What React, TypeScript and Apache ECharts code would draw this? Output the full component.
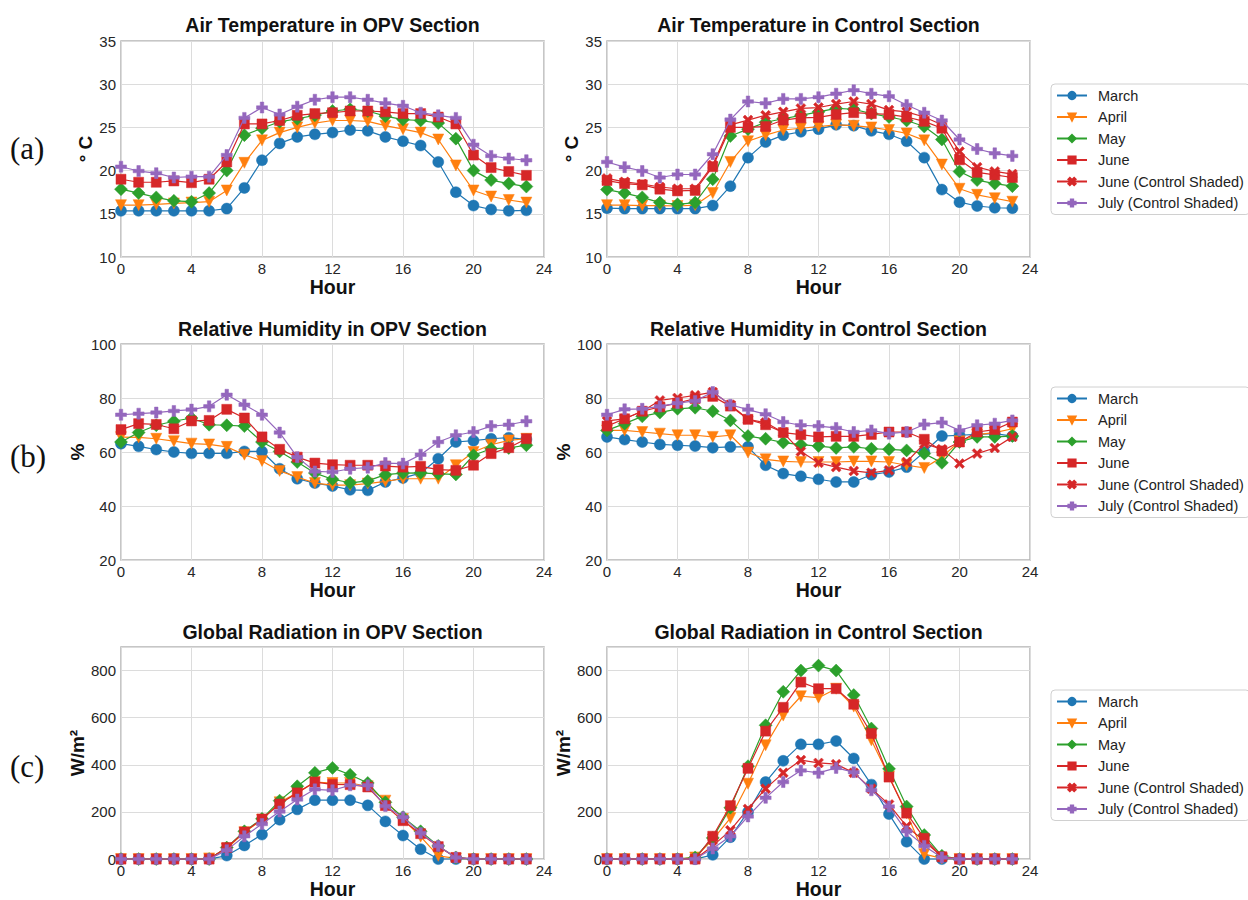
import React, { useEffect, useRef } from "react";
import * as echarts from "echarts";

const HOURS = [0, 1, 2, 3, 4, 5, 6, 7, 8, 9, 10, 11, 12, 13, 14, 15, 16, 17, 18, 19, 20, 21, 22, 23];
const SERIES_NAMES = ["March", "April", "May", "June", "June (Control Shaded)", "July (Control Shaded)"];
const PANEL_TITLES = [
  "Air Temperature in OPV Section",
  "Air Temperature in Control Section",
  "Relative Humidity in OPV Section",
  "Relative Humidity in Control Section",
  "Global Radiation in OPV Section",
  "Global Radiation in Control Section",
];
const ROW_LABELS = ["(a)", "(b)", "(c)"];
const Y_NAMES = ["° C", "%", "W/m²"];
const X_NAME = "Hour";

// ---- Air temperature (°C) ----
const T_OPV_MARCH = [15.35, 15.35, 15.35, 15.35, 15.35, 15.35, 15.6, 18.0, 21.2, 23.15, 23.9, 24.2, 24.4, 24.7, 24.6, 23.9, 23.4, 22.9, 21.0, 17.5, 15.95, 15.5, 15.35, 15.4];
const T_OPV_APRIL = [16.0, 16.0, 16.1, 16.2, 16.3, 16.4, 17.7, 20.9, 23.5, 24.4, 25.0, 25.5, 25.8, 25.8, 25.7, 25.2, 24.8, 24.4, 23.6, 20.6, 17.7, 17.0, 16.6, 16.3];
const T_OPV_MAY = [17.85, 17.4, 16.9, 16.5, 16.4, 17.4, 20.0, 24.1, 24.9, 25.65, 26.0, 26.4, 26.9, 27.1, 26.9, 26.3, 25.9, 25.8, 25.5, 23.7, 20.0, 18.9, 18.5, 18.15];
const T_OPV_JUNE = [19.0, 18.65, 18.65, 18.8, 18.6, 19.0, 21.0, 25.4, 25.4, 25.8, 26.4, 26.6, 26.7, 26.9, 26.9, 26.8, 26.6, 26.6, 26.2, 25.4, 21.8, 20.35, 19.9, 19.45];
const T_OPV_JULY = [20.45, 19.95, 19.7, 19.2, 19.3, 19.3, 21.8, 26.1, 27.3, 26.5, 27.4, 28.2, 28.5, 28.5, 28.2, 27.8, 27.5, 26.7, 26.4, 26.1, 23.0, 21.7, 21.4, 21.2];

const T_CTRL_MARCH = [15.65, 15.6, 15.6, 15.6, 15.6, 15.6, 15.95, 18.2, 21.5, 23.3, 24.1, 24.5, 24.8, 25.3, 25.2, 24.6, 24.2, 23.4, 21.5, 17.8, 16.35, 15.9, 15.7, 15.65];
const T_CTRL_APRIL = [16.0, 16.0, 15.95, 15.95, 15.9, 16.0, 17.4, 21.0, 23.4, 24.1, 24.7, 24.9, 25.1, 25.3, 25.2, 25.0, 24.7, 24.3, 23.5, 20.7, 17.9, 17.2, 16.8, 16.4];
const T_CTRL_MAY = [17.8, 17.4, 16.9, 16.3, 16.1, 16.3, 19.0, 24.0, 24.8, 25.6, 26.0, 26.4, 26.8, 27.2, 27.1, 26.6, 26.2, 25.8, 25.1, 23.6, 19.9, 18.9, 18.5, 18.2];
const T_CTRL_JUNE = [18.85, 18.5, 18.35, 17.85, 17.65, 17.7, 20.45, 25.0, 25.0, 25.1, 25.85, 26.1, 26.15, 26.5, 26.7, 26.6, 26.5, 26.2, 25.7, 24.9, 21.25, 19.8, 19.5, 19.2];
const T_CTRL_JUNE_SHADED = [19.1, 18.7, 18.45, 18.1, 17.9, 17.9, 20.65, 25.3, 25.85, 26.4, 26.8, 27.2, 27.3, 27.7, 28.0, 27.7, 27.0, 26.8, 26.2, 25.3, 22.2, 20.4, 19.9, 19.6];
const T_CTRL_JULY = [21.0, 20.4, 19.95, 19.2, 19.55, 19.55, 21.9, 25.9, 28.0, 27.8, 28.3, 28.3, 28.5, 28.9, 29.3, 28.9, 28.6, 27.6, 26.7, 25.8, 23.6, 22.5, 22.0, 21.7];

// ---- Relative humidity (%) ----
const RH_OPV_MARCH = [63.1, 62.1, 60.9, 60.0, 59.5, 59.5, 59.5, 60.2, 60.2, 53.8, 50.1, 48.5, 47.4, 46.0, 45.8, 48.9, 50.4, 52.2, 57.5, 63.7, 64.2, 64.9, 65.3, 64.7];
const RH_OPV_APRIL = [65.5, 65.4, 64.9, 64.0, 63.1, 62.8, 61.9, 59.0, 56.7, 53.0, 50.7, 48.5, 47.7, 47.7, 48.3, 49.1, 50.1, 50.1, 50.1, 55.1, 60.0, 62.7, 64.3, 64.9];
const RH_OPV_MAY = [63.7, 67.2, 69.9, 71.4, 72.6, 70.1, 69.9, 69.6, 63.7, 60.2, 56.3, 52.2, 49.9, 48.6, 49.3, 51.6, 52.2, 52.3, 51.9, 51.7, 58.8, 61.2, 61.5, 62.5];
const RH_OPV_JUNE = [68.3, 70.5, 70.2, 68.6, 71.5, 71.7, 75.8, 72.6, 65.6, 61.0, 58.1, 55.9, 55.3, 55.1, 55.1, 54.8, 54.4, 54.7, 53.5, 53.2, 55.1, 59.4, 61.6, 64.9];
const RH_OPV_JULY = [73.8, 74.2, 74.6, 75.2, 75.7, 76.9, 81.2, 77.5, 73.8, 67.2, 58.1, 52.8, 52.6, 53.8, 54.2, 55.9, 55.7, 59.0, 63.7, 66.2, 67.4, 69.6, 70.1, 71.4];

const RH_CTRL_MARCH = [65.6, 64.6, 63.7, 62.8, 62.5, 62.2, 61.6, 61.9, 61.9, 55.1, 52.0, 51.0, 49.9, 48.9, 48.9, 51.6, 52.6, 54.4, 60.0, 65.9, 66.2, 66.5, 66.8, 65.9];
const RH_CTRL_APRIL = [68.0, 68.0, 67.4, 66.8, 66.2, 66.2, 65.6, 66.2, 59.8, 57.3, 56.5, 56.3, 56.3, 56.3, 56.5, 56.5, 56.3, 55.1, 54.1, 58.1, 64.0, 66.4, 67.2, 68.6];
const RH_CTRL_MAY = [68.0, 70.5, 73.2, 74.6, 76.0, 76.4, 75.1, 71.7, 65.9, 64.9, 63.5, 62.7, 62.2, 61.5, 61.9, 61.2, 61.0, 60.6, 59.4, 56.0, 63.7, 65.6, 65.6, 65.9];
const RH_CTRL_JUNE = [69.6, 72.3, 75.1, 76.7, 78.1, 79.8, 80.6, 77.0, 72.1, 70.1, 67.2, 66.4, 65.6, 65.8, 65.8, 66.5, 67.4, 67.4, 64.7, 60.4, 63.7, 67.4, 68.3, 71.1];
const RH_CTRL_JUNE_SHADED = [71.5, 72.3, 75.1, 79.1, 80.0, 81.0, 82.2, 77.5, 72.1, 70.9, 67.2, 60.2, 56.0, 54.4, 53.0, 52.3, 53.2, 56.3, 63.1, 61.0, 55.7, 59.4, 61.5, 65.6];
const RH_CTRL_JULY = [73.8, 75.8, 76.0, 76.9, 78.1, 78.9, 82.2, 77.5, 75.7, 74.0, 71.1, 69.9, 69.6, 68.9, 67.4, 68.0, 66.8, 67.4, 70.2, 70.9, 68.0, 69.9, 70.5, 71.7];

// ---- Global radiation (W/m²) ----
const RAD_OPV_MARCH = [0, 0, 0, 0, 0, 0, 15, 58, 104, 167, 211, 250, 250, 250, 228, 160, 100, 42, 0, 0, 0, 0, 0, 0];
const RAD_OPV_APRIL = [0, 0, 0, 0, 0, 3, 45, 114, 167, 241, 281, 327, 323, 323, 309, 248, 170, 95, 14, 3, 0, 0, 0, 0];
const RAD_OPV_MAY = [0, 0, 0, 0, 0, 0, 49, 118, 171, 248, 309, 366, 387, 358, 323, 241, 178, 118, 56, 7, 0, 0, 0, 0];
const RAD_OPV_JUNE = [0, 0, 0, 0, 0, 0, 49, 115, 170, 234, 281, 327, 317, 316, 306, 227, 163, 108, 53, 7, 0, 0, 0, 0];
const RAD_OPV_JULY = [0, 0, 0, 0, 0, 0, 38, 97, 149, 202, 253, 296, 292, 313, 313, 225, 178, 111, 56, 7, 0, 0, 0, 0];

const RAD_CTRL_MARCH = [0, 0, 0, 0, 0, 0, 18, 93, 200, 327, 417, 487, 487, 501, 427, 316, 191, 74, 0, 0, 0, 0, 0, 0];
const RAD_CTRL_APRIL = [0, 0, 0, 0, 0, 7, 83, 174, 320, 483, 609, 691, 685, 723, 647, 504, 351, 195, 21, 3, 0, 0, 0, 0];
const RAD_CTRL_MAY = [0, 0, 0, 0, 0, 7, 90, 218, 394, 568, 710, 800, 821, 800, 696, 554, 383, 223, 102, 14, 0, 0, 0, 0];
const RAD_CTRL_JUNE = [0, 0, 0, 0, 0, 0, 97, 227, 385, 543, 644, 751, 723, 723, 657, 533, 348, 195, 88, 10, 0, 0, 0, 0];
const RAD_CTRL_JUNE_SHADED = [0, 0, 0, 0, 0, 0, 56, 122, 213, 299, 366, 420, 408, 403, 366, 299, 232, 139, 77, 10, 0, 0, 0, 0];
const RAD_CTRL_JULY = [0, 0, 0, 0, 0, 0, 45, 97, 181, 260, 327, 376, 366, 387, 369, 292, 223, 118, 56, 7, 0, 0, 0, 0];

const PANEL_DATA: (number[] | null)[][] = [
  [T_OPV_MARCH, T_OPV_APRIL, T_OPV_MAY, T_OPV_JUNE, null, T_OPV_JULY],
  [T_CTRL_MARCH, T_CTRL_APRIL, T_CTRL_MAY, T_CTRL_JUNE, T_CTRL_JUNE_SHADED, T_CTRL_JULY],
  [RH_OPV_MARCH, RH_OPV_APRIL, RH_OPV_MAY, RH_OPV_JUNE, null, RH_OPV_JULY],
  [RH_CTRL_MARCH, RH_CTRL_APRIL, RH_CTRL_MAY, RH_CTRL_JUNE, RH_CTRL_JUNE_SHADED, RH_CTRL_JULY],
  [RAD_OPV_MARCH, RAD_OPV_APRIL, RAD_OPV_MAY, RAD_OPV_JUNE, null, RAD_OPV_JULY],
  [RAD_CTRL_MARCH, RAD_CTRL_APRIL, RAD_CTRL_MAY, RAD_CTRL_JUNE, RAD_CTRL_JUNE_SHADED, RAD_CTRL_JULY],
];

const Y_RANGES = [
  { min: 10, max: 35, interval: 5 },
  { min: 20, max: 100, interval: 20 },
  { min: 0, max: 900, interval: 200 },
];

const COLORS = ["#1f77b4", "#ff7f0e", "#2ca02c", "#d62728", "#d62728", "#9467bd"];
const X_PATH = "path://M0,2 L2,0 L5,3 L8,0 L10,2 L7,5 L10,8 L8,10 L5,7 L2,10 L0,8 L3,5 Z";
const P_PATH = "path://M3.4,0 L6.6,0 L6.6,3.4 L10,3.4 L10,6.6 L6.6,6.6 L6.6,10 L3.4,10 L3.4,6.6 L0,6.6 L0,3.4 L3.4,3.4 Z";
const SYMBOLS = ["circle", "triangle", "diamond", "rect", X_PATH, P_PATH];
const SYMBOL_ROTATE = [0, 180, 0, 0, 0, 0];
const SYMBOL_SIZE = [11, 11, 13, 10, 10, 11];

const FONT = "Liberation Sans, Arial, Helvetica, sans-serif";

const GRID_LEFTS = [121, 607];
const GRID_TOPS = [41, 344, 647];
const GRID_W = 423;
const GRID_H = 216;
const TITLE_Y = [24.5, 329, 632];
const ROW_LABEL_Y = [148, 456, 766];
const LEGEND_TOPS = [84, 387, 690];

export default function App() {
  const ref = useRef<HTMLDivElement>(null);
  useEffect(() => {
    if (!ref.current) return;
    const chart = echarts.init(ref.current, null, { renderer: "svg" });
    const grids: any[] = [];
    const xAxes: any[] = [];
    const yAxes: any[] = [];
    const series: any[] = [];
    const graphics: any[] = [];

    for (let p = 0; p < 6; p++) {
      const row = Math.floor(p / 2);
      const col = p % 2;
      const left = GRID_LEFTS[col];
      const top = GRID_TOPS[row];
      grids.push({
        left,
        top,
        width: GRID_W,
        height: GRID_H,
        show: true,
        borderColor: "#b4b4b4",
        borderWidth: 1.5,
        backgroundColor: "#fff",
        containLabel: false,
      });
      xAxes.push({
        type: "value",
        gridIndex: p,
        min: 0,
        max: 24,
        interval: 4,
        name: X_NAME,
        nameLocation: "middle",
        nameGap: 15,
        nameTextStyle: { fontFamily: FONT, fontSize: 19.5, fontWeight: "bold", color: "#111" },
        axisLine: { show: false },
        axisTick: { show: false },
        axisLabel: { fontFamily: FONT, fontSize: 15, color: "#262626", margin: 4 },
        splitLine: { show: true, lineStyle: { color: "#dcdcdc", width: 1 } },
      });
      const yr = Y_RANGES[row];
      yAxes.push({
        type: "value",
        gridIndex: p,
        min: yr.min,
        max: yr.max,
        interval: yr.interval,
        name: Y_NAMES[row],
        nameLocation: "middle",
        nameRotate: 90,
        nameGap: 26,
        nameTextStyle: { fontFamily: FONT, fontSize: 19, fontWeight: "bold", color: "#111" },
        axisLine: { show: false },
        axisTick: { show: false },
        axisLabel: {
          fontFamily: FONT,
          fontSize: 15,
          color: "#262626",
          margin: 5,
          formatter: (v: number) => (v > 800 && row === 2 ? "" : String(v)),
        },
        splitLine: { show: true, lineStyle: { color: "#dcdcdc", width: 1 } },
      });
      graphics.push({
        type: "text",
        x: left + GRID_W / 2,
        y: TITLE_Y[row],
        style: {
          text: PANEL_TITLES[p],
          fontFamily: FONT,
          fontSize: 19.5,
          fontWeight: "bold",
          fill: "#111",
          textAlign: "center",
          textVerticalAlign: "middle",
        },
      });
      PANEL_DATA[p].forEach((vals, s) => {
        if (!vals) return;
        series.push({
          type: "line",
          name: SERIES_NAMES[s],
          xAxisIndex: p,
          yAxisIndex: p,
          data: HOURS.map((h, i) => [h, vals[i]]),
          symbol: SYMBOLS[s],
          symbolSize: SYMBOL_SIZE[s],
          symbolRotate: SYMBOL_ROTATE[s],
          showAllSymbol: true,
          lineStyle: { color: COLORS[s], width: 1.2 },
          itemStyle: { color: COLORS[s], borderColor: COLORS[s], borderWidth: 0.5 },
          emphasis: { disabled: true },
          z: 2 + s,
        });
      });
    }

    for (let r = 0; r < 3; r++) {
      graphics.push({
        type: "text",
        x: 10,
        y: ROW_LABEL_Y[r],
        style: {
          text: ROW_LABELS[r],
          fontFamily: "Liberation Serif, Times New Roman, serif",
          fontSize: 31,
          fill: "#111",
          textAlign: "left",
          textVerticalAlign: "middle",
        },
      });
    }

    const legends = LEGEND_TOPS.map((top) => ({
      orient: "vertical",
      left: 1051,
      top,
      data: SERIES_NAMES,
      itemWidth: 30,
      itemHeight: 9,
      itemGap: 6.5,
      padding: [4, 6, 4, 5],
      borderColor: "#d0d0d0",
      borderWidth: 1,
      borderRadius: 4,
      backgroundColor: "#fff",
      selectedMode: false,
      textStyle: { fontFamily: FONT, fontSize: 14.5, color: "#222", padding: [0, 0, 0, 6] },
    }));

    chart.setOption({
      animation: false,
      backgroundColor: "#fff",
      grid: grids,
      xAxis: xAxes,
      yAxis: yAxes,
      series,
      legend: legends,
      graphic: graphics,
    });
    return () => chart.dispose();
  }, []);
  return (
    <div
      ref={ref}
      style={{ position: "absolute", left: 0, top: 0, width: 1248, height: 900, background: "#fff" }}
    />
  );
}
